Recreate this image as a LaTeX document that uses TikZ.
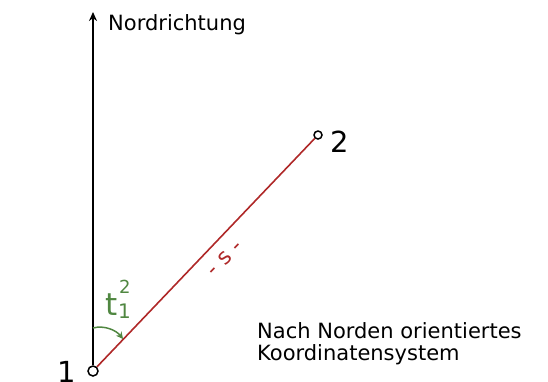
\documentclass[tikz,border=0pt]{standalone}
\usepackage{fontspec}
\setmainfont{DejaVu Sans}
\usetikzlibrary{arrows.meta}
\definecolor{dred}{RGB}{175,40,40}
\definecolor{dgreen}{RGB}{80,135,65}
\begin{document}
\begin{tikzpicture}[x=1pt,y=-1pt,
  lbl/.style={inner sep=0pt,anchor=base west,font=\fontsize{21}{24}\selectfont},
  pt/.style={circle,draw=black,line width=1.5pt,inner sep=0pt},
  num/.style={inner sep=0pt,font=\fontsize{29}{30}\selectfont}]
\useasboundingbox (0,0) rectangle (548,381);
\node[pt,minimum size=10pt] (p1) at (93,371) {};
\node[pt,minimum size=8pt] (p2) at (318,135) {};
\coordinate (north) at (93,12);
\draw[line width=1.8pt,-{Stealth[length=9pt,width=8pt]}] (p1) -- (north);
\node[lbl] (nr) at (108,30) {Nordrichtung};
\draw[dred,line width=1.6pt] (p1) -- (p2);
\node[num,anchor=base west] (l2) at (330,152) {2};
\node[num,anchor=base east] (l1) at (76,382) {1};
\node[dred,inner sep=0pt,rotate=46,font=\fontsize{22}{24}\selectfont] (s) at (225,258) {- s -};
\coordinate (a0) at (93,328);
\coordinate (a1) at (123,339);
\draw[dgreen,line width=1.5pt,-{Stealth[length=7pt,width=7pt]}] (a0) .. controls (104,325) and (116,330) .. (a1);
\node[dgreen,inner sep=0pt,anchor=base west,font=\fontsize{31}{32}\selectfont] (t) at (105,315) {t};
\node[dgreen,inner sep=0pt,anchor=base west,font=\fontsize{18}{19}\selectfont] (tsup) at (119,293) {2};
\node[dgreen,inner sep=0pt,anchor=base west,font=\fontsize{20}{21}\selectfont] (tsub) at (118,318) {1};
\node[lbl] (c1) at (257,338) {Nach Norden orientiertes};
\node[lbl] (c2) at (257,360) {Koordinatensystem};
\end{tikzpicture}
\end{document}
